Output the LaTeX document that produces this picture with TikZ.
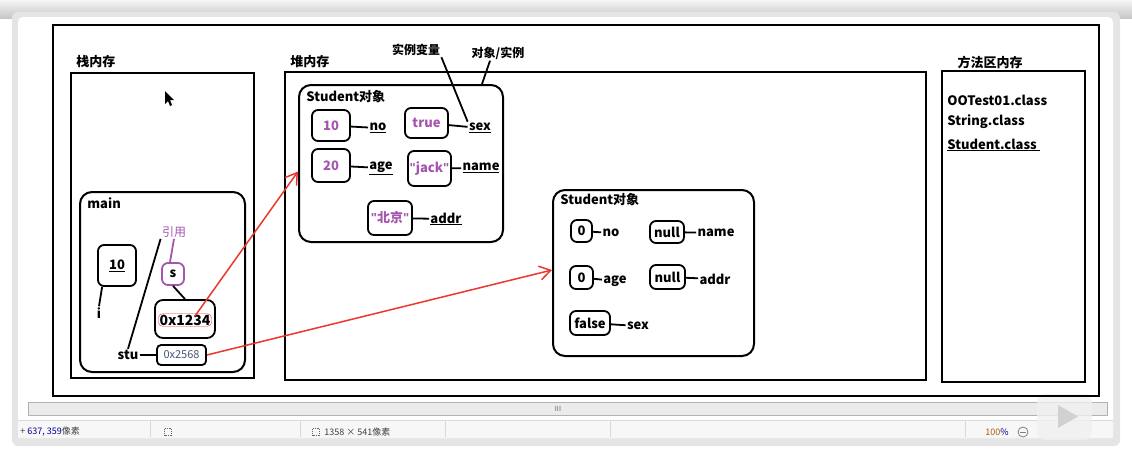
\documentclass[tikz,border=0pt]{standalone}
\usepackage{fontspec}
\setmainfont{Noto Sans CJK SC}
\newfontfamily\qfont{Liberation Sans}
\usetikzlibrary{arrows.meta}
\definecolor{vpurple}{RGB}{165,85,175}
\definecolor{vred}{RGB}{235,55,45}
\definecolor{vaddr}{RGB}{70,85,120}
\newcommand\dq{{\qfont\bfseries"}}
\tikzset{
  frame/.style={draw,line width=2.2pt,inner sep=0pt},
  obj/.style={draw,line width=2pt,rounded corners=12pt,inner sep=0pt},
  cell/.style={draw,line width=1.8pt,rounded corners=6pt,inner sep=0pt,font=\bfseries\fontsize{13}{15}\selectfont},
  val/.style={cell,text=vpurple},
  fld/.style={inner sep=1pt,font=\bfseries\fontsize{13}{15}\selectfont},
  ttl/.style={inner sep=0pt,anchor=west,font=\bfseries\fontsize{13}{15}\selectfont},
  lnk/.style={line width=1.8pt},
  ref/.style={->,draw=vred,line width=1.5pt},
  bar/.style={inner sep=0pt,anchor=west,font=\fontsize{9}{10}\selectfont,text=black!75},
  icon/.style={draw=black!60,densely dotted,minimum width=7pt,minimum height=7pt,inner sep=0pt},
}
\begin{document}
\begin{tikzpicture}[x=1pt,y=-1pt,>={Straight Barb[length=11pt,width=14pt]},thick]
\useasboundingbox (0,0) rectangle (1132,456);
% window
\fill[top color=black!4,bottom color=black!22] (0,0) rectangle (1132,18);
\fill[black!10,rounded corners=6pt] (12,12) rectangle (1120,446);
\fill[white,rounded corners=5pt] (18,17) rectangle (1113,438);
\draw[black!30,fill=black!8] (28,402) rectangle (1107,415);
\node[inner sep=0pt,font=\fontsize{7}{7}\selectfont,text=black!60](grip) at (558,408.5){III};
\fill[black!3] (18,420) rectangle (1113,438);
\draw[black!15] (18,420)--(1113,420);
\foreach \sx in {150,300,445,610,965}
  \draw[black!15] (\sx,421)--(\sx,437);
\node[bar](pos) at (20,432){+ {\color{blue!55!black}637, 359}像素};
\node[icon](sel) at (168,432){};
\node[icon](dimicon) at (316,432){};
\node[bar](dim) at (324,432){1358 × 541像素};
\node[bar](zoom) at (985,432){{\color{orange!70!black}100}{\color{blue!55!black}\%}};
\draw[black!50] (1023,432) circle (5pt);
\draw[black!50] (1020,432)--(1026,432);
\fill[black!6,opacity=.8,rounded corners=8pt] (1037,394) rectangle (1092,440);
\fill[black!18] (1058,405)--(1058,428)--(1078,416.5)--cycle;
% cursor
\fill[black] (165,91)--(165,104)--(168,101)--(170,106)--(172,105)--(170,100)--(174,100)--cycle;
% outer frame
\node[frame](all) at (576,210.5)[minimum width=1046pt,minimum height=371pt]{};
% stack
\node[ttl](tstack) at (76,62){栈内存};
\node[frame](stack) at (162.5,225.5)[minimum width=183pt,minimum height=305pt]{};
\node[obj](main) at (162.5,282)[minimum width=165pt,minimum height=180pt]{};
\node[ttl](tmain) at (87,203){main};
\node[cell](i10) at (117,265.5)[minimum width=38pt,minimum height=41pt]{\underline{10}};
\node[fld](i) at (99,313){i};
\draw[lnk]([xshift=5pt]i10.south west)--(i.north);
\node[inner sep=1pt,text=vpurple,font=\fontsize{12}{14}\selectfont](yin) at (174,232){引用};
\node[cell,draw=vpurple](s) at (173,274)[minimum width=22pt,minimum height=22pt]{s};
\draw[lnk,vpurple](yin.south)--([xshift=-3pt]s.north);
\node[cell,rounded corners=8pt](p1234) at (185,319)[minimum width=60pt,minimum height=38pt]{};
\node[draw=vred,thin,rounded corners=4pt,inner sep=1pt,font=\bfseries\fontsize{14}{16}\selectfont](t1234) at (185,320){0x1234};
\draw[lnk](s.south)--(p1234.north);
\node[fld](stu) at (128,355){stu};
\draw[lnk](yin.south west)--(stu.north);
\node[cell,rounded corners=4pt,font=\fontsize{11}{13}\selectfont,text=vaddr](p2568) at (181.5,355)[minimum width=49pt,minimum height=20pt]{0x2568};
\draw[lnk](stu.east)--(p2568.west);
% heap
\node[ttl](theap) at (290,62){堆内存};
\node[frame](heap) at (605.5,226)[minimum width=641pt,minimum height=308pt]{};
\node[obj](obj1) at (401,163.5)[minimum width=204pt,minimum height=157pt]{};
\node[ttl](tobj1) at (306,97){Student对象};
\node[val](v10) at (331,125.5)[minimum width=38pt,minimum height=31pt]{10};
\node[fld](no) at (378,128){\underline{no}};
\node[val](vtrue) at (426.5,123)[minimum width=43pt,minimum height=30pt]{true};
\node[fld](sex) at (480,128){\underline{sex}};
\node[val](v20) at (331,165.5)[minimum width=38pt,minimum height=33pt]{20};
\node[fld](age) at (381,168){\underline{age}};
\node[val](vjack) at (429.5,168.5)[minimum width=43pt,minimum height=35pt]{\dq jack\dq};
\node[fld](name) at (481,168){\underline{name}};
\node[val](vbj) at (390,218)[minimum width=44pt,minimum height=34pt]{\dq 北京\dq};
\node[fld](addr) at (446,219){\underline{addr}};
\draw[lnk](v10)--(no);
\draw[lnk](vtrue)--(sex);
\draw[lnk](v20)--(age);
\draw[lnk](vjack)--(name);
\draw[lnk](vbj)--(addr);
\node[inner sep=1pt,font=\bfseries\fontsize{12}{14}\selectfont](tvar) at (416,50){实例变量};
\draw[lnk](tvar.south east)--(sex.north west);
\node[inner sep=1pt,font=\bfseries\fontsize{12}{14}\selectfont](tins) at (498,53){对象/实例};
\draw[lnk]([xshift=-8pt]tins.south)--([xshift=-22pt]obj1.north east);
\node[obj](obj2) at (653.5,273)[minimum width=201pt,minimum height=166pt]{};
\node[ttl](tobj2) at (560,200){Student对象};
\node[cell](w0a) at (581.5,231)[minimum width=21pt,minimum height=22pt]{0};
\node[fld](no2) at (611,233){no};
\node[cell](wnull1) at (667,232)[minimum width=34pt,minimum height=22pt]{null};
\node[fld](name2) at (716,233){name};
\node[cell](w0b) at (581.5,277.5)[minimum width=23pt,minimum height=23pt]{0};
\node[fld](age2) at (615,281){age};
\node[cell](wnull2) at (667.5,277)[minimum width=35pt,minimum height=24pt]{null};
\node[fld](addr2) at (715,279){addr};
\node[cell](wfalse) at (590,323)[minimum width=40pt,minimum height=24pt]{false};
\node[fld](sex2) at (638,326){sex};
\draw[lnk](w0a)--(no2);
\draw[lnk](wnull1)--(name2);
\draw[lnk](w0b)--(age2);
\draw[lnk](wnull2)--(addr2);
\draw[lnk](wfalse)--(sex2);
% method area
\node[inner sep=0pt,font=\bfseries\fontsize{13}{15}\selectfont](tmeth) at (990,62){方法区内存};
\node[frame](meth) at (1013.5,226.5)[minimum width=143pt,minimum height=311pt]{};
\node[ttl](c1) at (947,100){OOTest01.class};
\node[ttl](c2) at (947,122){String.class};
\node[ttl](c3) at (947,145){\underline{Student.class\ }};
% references
\draw[ref]([xshift=10pt,yshift=4pt]t1234.center)--([yshift=-8pt]obj1.west);
\draw[ref](p2568.east)--([yshift=3pt]obj2.west);
\end{tikzpicture}
\end{document}
